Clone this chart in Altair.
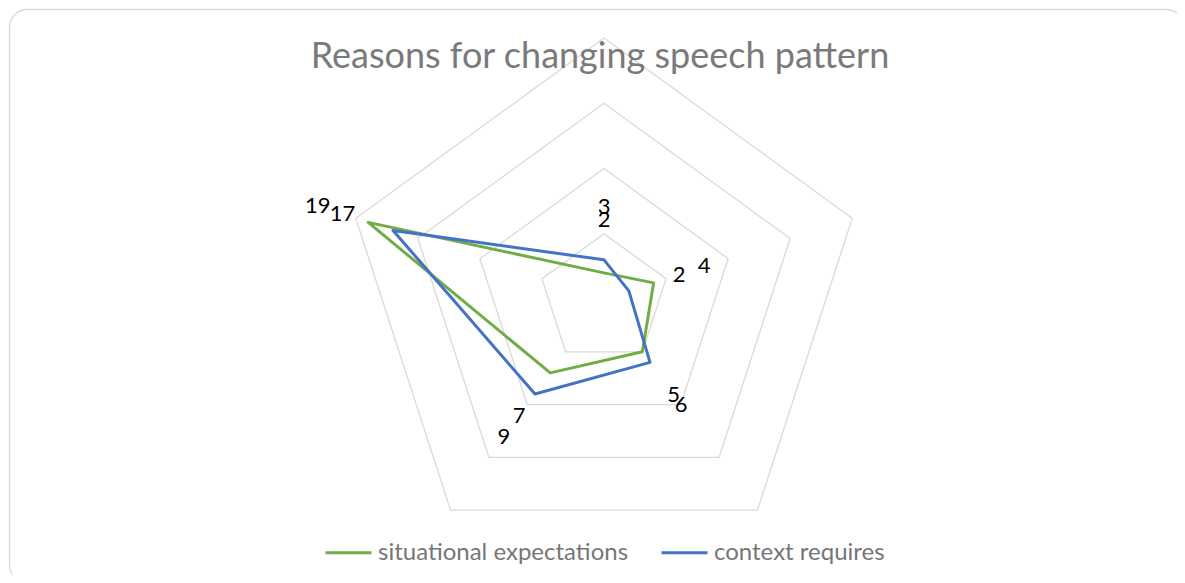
import altair as alt
import pandas as pd
import numpy as np

# ---------------- data ----------------
categories = ["Reason 1", "Reason 2", "Reason 3", "Reason 4", "Reason 5"]
series_names = ["situational expectations", "context requires"]
situational = [2, 4, 5, 7, 19]
context = [3, 2, 6, 9, 17]
ring_values = [5, 10, 15, 20]
title_text = "Reasons for changing speech pattern"
colors = ["#70AD47", "#4472C4"]

# ---------------- geometry / style ----------------
W, H = 1169, 567
CX, CY = 596, 291          # centre of the radar, in view pixels
K = 261 / 20               # pixels per value unit
LABEL_OFF = 53 / K
FONT = "Lato"
n = len(categories)
ang = [2 * np.pi * i / n for i in range(n)]

line_rows = []
label_rows = []
for s, vals in zip(series_names, [situational, context]):
    for j in range(n + 1):
        i = j % n
        line_rows.append(dict(series=s, order=j, cat=categories[i], value=vals[i],
                              x=vals[i] * np.sin(ang[i]), y=vals[i] * np.cos(ang[i])))
    for i in range(n):
        r = vals[i] + LABEL_OFF
        label_rows.append(dict(series=s, cat=categories[i], value=vals[i],
                               x=r * np.sin(ang[i]), y=r * np.cos(ang[i])))
lines = pd.DataFrame(line_rows)
labels = pd.DataFrame(label_rows)

grid_rows = []
for rv in ring_values:
    for j in range(n + 1):
        i = j % n
        grid_rows.append(dict(ring=rv, order=j, x=rv * np.sin(ang[i]), y=rv * np.cos(ang[i])))
grid = pd.DataFrame(grid_rows)

xs = alt.Scale(domain=[-CX / K, (W - CX) / K], nice=False, zero=False)
ys = alt.Scale(domain=[(CY - H) / K, CY / K], nice=False, zero=False)
X = alt.X("x:Q", scale=xs, axis=None)
Y = alt.Y("y:Q", scale=ys, axis=None)

one = pd.DataFrame({"t": [title_text]})

frame = alt.Chart(one).mark_rect(
    cornerRadius=18, fill="white", stroke="#d9d9d9", strokeWidth=1.3
).encode(x=alt.value(1.5), y=alt.value(1.5), x2=alt.value(1176), y2=alt.value(575))

grid_layer = alt.Chart(grid).mark_line(color="#d9d9d9", strokeWidth=1.3).encode(
    x=X, y=Y, detail="ring:N", order="order:Q"
)

color_enc = alt.Color(
    "series:N",
    scale=alt.Scale(domain=series_names, range=colors),
    legend=alt.Legend(
        title=None, orient="none", direction="horizontal",
        legendX=316, legendY=520, symbolType="stroke", symbolSize=2116,
        symbolStrokeWidth=3, labelFontSize=24, labelFont=FONT, labelLimit=0,
        labelColor="#767676", columnPadding=26, labelOffset=5, padding=0,
    ),
)

green_layer = alt.Chart(lines).transform_filter(
    alt.datum.series == series_names[0]
).mark_line(strokeWidth=3, strokeJoin="round", strokeCap="round").encode(
    x=X, y=Y, color=color_enc, order="order:Q"
)
blue_layer = alt.Chart(lines).transform_filter(
    alt.datum.series == series_names[1]
).mark_line(strokeWidth=3, strokeJoin="round", strokeCap="round").encode(
    x=X, y=Y, color=color_enc, order="order:Q"
)

label_layer = alt.Chart(labels).mark_text(
    font=FONT, fontSize=22, color="black", align="center", baseline="middle"
).encode(x=X, y=Y, text="value:Q")

title_layer = alt.Chart(one).mark_text(
    font=FONT, fontSize=36, color="#7a7a7a", align="center", baseline="alphabetic"
).encode(x=alt.value(CX - 4), y=alt.value(60), text="t:N")

chart = alt.layer(
    frame, grid_layer, green_layer, blue_layer, label_layer, title_layer
).properties(
    width=W, height=H, padding=0, autosize=alt.AutoSizeParams(type="none")
).configure_view(stroke=None)

chart.save("out.html", embed_options={"renderer": "svg", "actions": False})
